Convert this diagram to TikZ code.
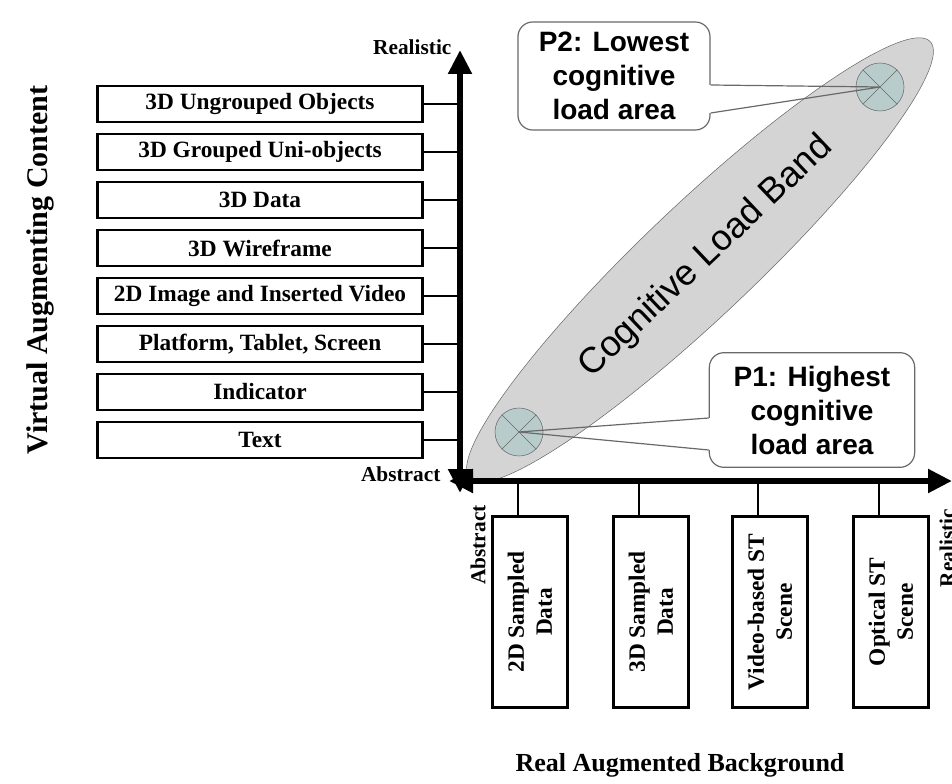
\documentclass[tikz,border=0pt]{standalone}
\usepackage{fontspec}
\setmainfont{Liberation Serif}
\newfontfamily\calloutfont{Liberation Sans}
\usetikzlibrary{shapes.geometric,arrows.meta}
\definecolor{bandgray}{RGB}{212,212,212}
\definecolor{spotfill}{RGB}{184,204,204}
\definecolor{edgegray}{RGB}{105,105,105}

\begin{document}
\begin{tikzpicture}[
    x=0.75pt, y=-0.75pt,
    node distance=36pt,
    vbox/.style={rectangle, draw, line width=2pt, minimum width=244pt,
        minimum height=27pt, inner sep=0pt, font=\fontsize{17.5}{19}\selectfont\bfseries},
    rbox/.style={rectangle, draw, line width=2pt, rotate=90, minimum width=143pt,
        minimum height=56pt, inner sep=0pt, align=center,
        font=\fontsize{17.5}{21}\selectfont\bfseries},
    tick/.style={line width=2pt},
    axis/.style={line width=4.5pt,
        {Triangle[length=18pt,width=17pt]}-{Triangle[length=18pt,width=17pt]}},
    axislabel/.style={font=\fontsize{16}{18}\selectfont\bfseries, inner sep=1pt},
    band/.style={ellipse, draw=edgegray, fill=bandgray, rotate=43.5,
        minimum width=476pt, minimum height=84pt},
    spot/.style={circle, draw=edgegray, fill=spotfill, minimum size=36pt, inner sep=0pt},
    callout/.style={rectangle, draw=edgegray, line width=0.9pt, fill=white,
        rounded corners=11pt, inner sep=0pt, align=center,
        font=\calloutfont\fontsize{21}{25.5}\selectfont\bfseries},
    pointer/.style={draw=edgegray, line width=0.9pt}
]
    \useasboundingbox (0,0) rectangle (952,784);

    % load band and the two marked points
    \node[band] (band) at (700,260) {};
    \node[rotate=43.5, font=\calloutfont\fontsize{27}{29}\selectfont] (bandtxt) at (706,257) {Cognitive Load Band};
    \node[spot] (p1) at (519,432) {};
    \node[spot] (p2) at (880,87) {};
    \draw[edgegray] (p1.north west) -- (p1.south east) (p1.north east) -- (p1.south west);
    \draw[edgegray] (p2.north west) -- (p2.south east) (p2.north east) -- (p2.south west);

    % axes
    \coordinate (o) at (460,481);
    \coordinate (ytop) at (460,50);
    \coordinate (ybot) at (460,493);
    \coordinate (xleft) at (449,481);
    \coordinate (xright) at (952,481);
    \draw[axis] (ybot) -- (ytop);
    \draw[axis] (xleft) -- (xright);
    \node[axislabel, anchor=east] (vreal) at (453,47) {Realistic};
    \node[axislabel, anchor=east] (vabs) at (442,474) {Abstract};
    \node[axislabel, rotate=90] (habs) at (478,545) {Abstract};
    \node[axislabel, rotate=90] (hreal) at (947,548) {Realistic};

    % virtual content levels
    \node[vbox] (v1) at (260,104) {3D Ungrouped Objects};
    \node[vbox, below of=v1] (v2) {3D Grouped Uni-objects};
    \node[vbox, below of=v2] (v3) {3D Data};
    \node[vbox, below of=v3] (v4) {3D Wireframe};
    \node[vbox, below of=v4] (v5) {2D Image and Inserted Video};
    \node[vbox, below of=v5] (v6) {Platform, Tablet, Screen};
    \node[vbox, below of=v6] (v7) {Indicator};
    \node[vbox, below of=v7] (v8) {Text};
    \foreach \v in {v1,v2,v3,v4,v5,v6,v7,v8}
        \draw[tick] (\v.east) -- (\v.east -| o);

    % real background levels
    \node[rbox] (r1) at (530,612) {2D Sampled\\Data};
    \node[rbox] (r2) at (651,612) {3D Sampled\\Data};
    \node[rbox] (r3) at (770,612) {Video-based ST\\Scene};
    \node[rbox] (r4) at (891,612) {Optical ST\\Scene};
    \foreach \r in {r1,r2,r3,r4}
        \draw[tick] ([xshift=-9pt]\r.east) -- ([xshift=-9pt]\r.east |- o);

    \node[rotate=90, font=\fontsize{22.5}{24}\selectfont\bfseries] (vtitle) at (40,270)
        {Virtual Augmenting Content};
    \node[font=\fontsize{19.5}{22}\selectfont\bfseries] (htitle) at (680,765)
        {Real Augmented Background};

    % callouts
    \node[callout, minimum width=144pt, minimum height=81pt] (lo) at (614,76)
        {P2: Lowest\\cognitive\\load area};
    \node[callout, minimum width=154pt, minimum height=86pt] (hi) at (812,410)
        {P1: Highest\\cognitive\\load area};
    \draw[white, line width=2pt] ([yshift=-6.75pt]lo.east) -- ([yshift=-27.75pt]lo.east);
    \draw[pointer] ([yshift=-6.75pt]lo.east) -- (p2.center) -- ([yshift=-27.75pt]lo.east);
    \draw[white, line width=2pt] ([yshift=-6pt]hi.west) -- ([yshift=-30pt]hi.west);
    \draw[pointer] ([yshift=-6pt]hi.west) -- (p1.center) -- ([yshift=-30pt]hi.west);
\end{tikzpicture}
\end{document}
